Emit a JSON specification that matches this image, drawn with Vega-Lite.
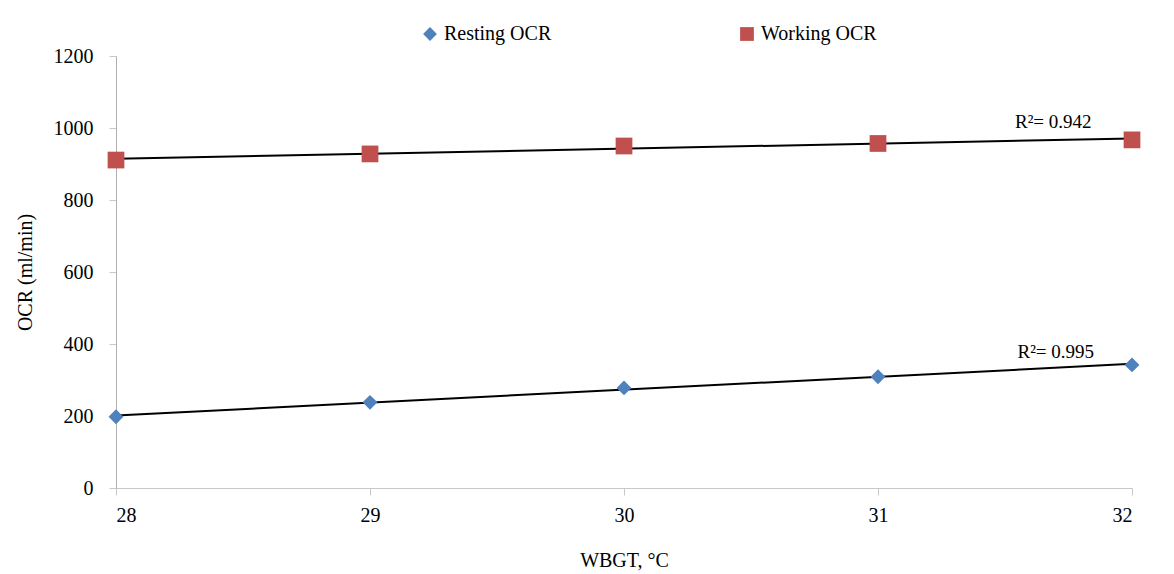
{
  "$schema": "https://vega.github.io/schema/vega-lite/v6.json",
  "autosize": "none",
  "width": 1016,
  "height": 432,
  "padding": {"left": 116, "top": 56, "right": 42, "bottom": 86},
  "background": "white",
  "config": {
    "view": {"stroke": null},
    "font": "Times New Roman, Liberation Serif, serif",
    "axis": {"labelFont": "Times New Roman, Liberation Serif, serif", "titleFont": "Times New Roman, Liberation Serif, serif", "labelFontSize": 20, "titleFontSize": 20, "labelColor": "black", "titleColor": "black", "titleFontWeight": "normal", "grid": false, "domainColor": "#c8c8c8", "tickColor": "#c8c8c8", "tickSize": 7},
    "legend": {"labelFont": "Times New Roman, Liberation Serif, serif", "labelFontSize": 20, "labelColor": "black"}
  },
  "datasets": {
    "pts": [
      {"wbgt": 28, "ocr": 198, "series": "Resting OCR"},
      {"wbgt": 29, "ocr": 238, "series": "Resting OCR"},
      {"wbgt": 30, "ocr": 278, "series": "Resting OCR"},
      {"wbgt": 31, "ocr": 309, "series": "Resting OCR"},
      {"wbgt": 32, "ocr": 342, "series": "Resting OCR"},
      {"wbgt": 28, "ocr": 911, "series": "Working OCR"},
      {"wbgt": 29, "ocr": 928, "series": "Working OCR"},
      {"wbgt": 30, "ocr": 950, "series": "Working OCR"},
      {"wbgt": 31, "ocr": 957, "series": "Working OCR"},
      {"wbgt": 32, "ocr": 967, "series": "Working OCR"}
    ],
    "labels": [
      {"wbgt": 31.69, "ocr": 1017, "text": "R²= 0.942"},
      {"wbgt": 31.7, "ocr": 378, "text": "R²= 0.995"}
    ]
  },
  "layer": [
    {
      "data": {"name": "pts"},
      "transform": [{"regression": "ocr", "on": "wbgt", "groupby": ["series"]}],
      "mark": {"type": "line", "color": "black", "strokeWidth": 2},
      "encoding": {
        "x": {"field": "wbgt", "type": "quantitative"},
        "y": {"field": "ocr", "type": "quantitative"},
        "detail": {"field": "series"}
      }
    },
    {
      "data": {"name": "pts"},
      "transform": [{"filter": "datum.series === 'Resting OCR'"}],
      "mark": {"type": "point", "filled": true, "opacity": 1, "size": 220},
      "encoding": {
        "x": {"field": "wbgt", "type": "quantitative", "scale": {"domain": [28, 32]}, "axis": {"title": "WBGT, °C", "values": [28, 29, 30, 31, 32], "format": "d", "labelPadding": 10, "titlePadding": 25}},
        "y": {"field": "ocr", "type": "quantitative", "scale": {"domain": [0, 1200]}, "axis": {"title": "OCR (ml/min)", "values": [0, 200, 400, 600, 800, 1000, 1200], "format": "d", "labelPadding": 16, "titlePadding": 18, "domainColor": "#b0b0b0"}},
        "color": {"field": "series", "type": "nominal", "scale": {"domain": ["Resting OCR", "Working OCR"], "range": ["#4F81BD", "#C0504D"]}, "legend": {"title": null, "orient": "none", "direction": "horizontal", "legendX": 304, "legendY": -32, "columnPadding": 185, "symbolSize": 190, "labelOffset": 4}},
        "shape": {"field": "series", "type": "nominal", "scale": {"domain": ["Resting OCR", "Working OCR"], "range": ["diamond", "square"]}, "legend": {"title": null, "orient": "none", "direction": "horizontal", "legendX": 304, "legendY": -32, "columnPadding": 185, "symbolSize": 190, "labelOffset": 4}}
      }
    },
    {
      "data": {"name": "pts"},
      "transform": [{"filter": "datum.series === 'Working OCR'"}],
      "mark": {"type": "point", "filled": true, "opacity": 1, "size": 280},
      "encoding": {
        "x": {"field": "wbgt", "type": "quantitative"},
        "y": {"field": "ocr", "type": "quantitative"},
        "color": {"field": "series", "type": "nominal"},
        "shape": {"field": "series", "type": "nominal"}
      }
    },
    {
      "data": {"name": "labels"},
      "mark": {"type": "text", "fontSize": 19, "font": "Times New Roman, Liberation Serif, serif", "color": "black"},
      "encoding": {
        "x": {"field": "wbgt", "type": "quantitative"},
        "y": {"field": "ocr", "type": "quantitative"},
        "text": {"field": "text"}
      }
    }
  ]
}
